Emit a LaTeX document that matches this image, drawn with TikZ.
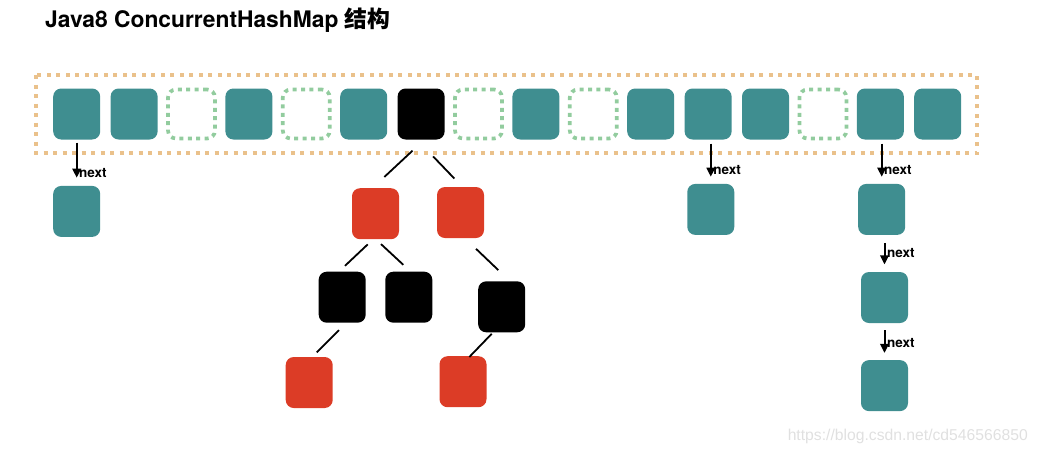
\documentclass[tikz,border=0pt]{standalone}
\usepackage{fontspec}
\setmainfont{TeX Gyre Heros}
\newfontfamily\cjk{Noto Sans CJK SC}
\newfontfamily\markfont{Liberation Sans}
\usetikzlibrary{arrows.meta,positioning,calc}
\definecolor{Teal}{HTML}{3F8E90}
\definecolor{Red}{HTML}{DC3C26}
\definecolor{Mint}{HTML}{92CC9E}
\definecolor{Sand}{HTML}{EAC18B}

\begin{document}
\begin{tikzpicture}[
  x=1pt,y=-1pt,
  cell/.style={rounded corners=8pt,fill=Teal,minimum width=47pt,minimum height=51pt,inner sep=0pt},
  emptycell/.style={rounded corners=8pt,draw=Mint,line width=3.7pt,dash pattern=on 4pt off 4.4pt,minimum width=47pt,minimum height=49pt,inner sep=0pt},
  blackcell/.style={cell,fill=black},
  redcell/.style={cell,fill=Red},
  nextarrow/.style={-{Triangle[length=9pt,width=8.5pt]},line width=2pt},
  nextlabel/.style={anchor=west,inner sep=1.5pt,font=\fontsize{13.5}{15}\selectfont\bfseries},
  edge/.style={line width=1.8pt}
]
\useasboundingbox (0,0) rectangle (1038,456);

\node[anchor=base west,inner sep=0pt,font=\fontsize{22.8}{26}\selectfont\bfseries] (title) at (45,27.7) {Java8 ConcurrentHashMap {\cjk 结构}};

\draw[Sand,line width=4pt,dash pattern=on 4pt off 5.5pt] (36,75) rectangle (977,153);

\foreach \k [count=\i from 0] in {cell,cell,emptycell,cell,emptycell,cell,blackcell,emptycell,cell,emptycell,cell,cell,cell,emptycell,cell,cell}
  \node[\k] (a\i) at ({76.7+57.4*\i},114) {};

% linked lists
\node[cell,below=46pt of a0] (c0) {};
\node[cell,below=44pt of a11,xshift=2.7pt] (c11) {};
\node[cell,below=44pt of a14,xshift=1.4pt] (c14a) {};
\node[cell,below=36.7pt of c14a,xshift=2.8pt] (c14b) {};
\node[cell,below=36.7pt of c14b] (c14c) {};

\draw[nextarrow,shorten <=3pt,shorten >=8pt] (c0.north |- a0.south) -- (c0.north) node[nextlabel,pos=0.72] {next};
\draw[nextarrow,shorten <=4pt,shorten >=7pt] (c11.north |- a11.south) -- (c11.north) node[nextlabel,pos=0.68] {next};
\draw[nextarrow,shorten <=4pt,shorten >=7pt] (c14a.north |- a14.south) -- (c14a.north) node[nextlabel,pos=0.68] {next};
\draw[nextarrow,shorten <=7.7pt,shorten >=7.4pt] (c14b.north |- c14a.south) -- (c14b.north) node[nextlabel,pos=0.5] {next};
\draw[nextarrow,shorten <=7pt,shorten >=7pt] (c14c.north |- c14b.south) -- (c14c.north) node[nextlabel,pos=0.55] {next};

% red-black tree
\node[redcell] (red1) at (375.5,213.7) {};
\node[redcell] (red2) at (460.5,212.5) {};
\node[blackcell] (blk1) at (342.2,297.2) {};
\node[blackcell] (blk2) at (408.8,297.2) {};
\node[blackcell] (blk3) at (501.7,306.8) {};
\node[redcell] (red3) at (309.2,382.5) {};
\node[redcell] (red4) at (463,381.7) {};

\draw[edge] ($(a6.south)+(-8.6,11)$) -- ($(red1.north)+(8.8,-11)$);
\draw[edge] ($(a6.south)+(12,16.7)$) -- ($(red2.north)+(-6.2,-8.3)$);
\draw[edge] ($(red1.south)+(-7.8,5)$) -- ($(blk1.north)+(2.8,-5.7)$);
\draw[edge] ($(red1.south)+(5.5,4.7)$) -- ($(blk2.north)+(-5.5,-6.7)$);
\draw[edge] ($(red2.south)+(15.5,10.6)$) -- ($(blk3.north)+(-3.4,-11)$);
\draw[edge] ($(blk1.south)+(-3.2,7.3)$) -- ($(red3.north)+(7.5,-4.4)$);
\draw[edge] ($(blk3.south)+(-10,1.3)$) -- ($(red4.north)+(6.3,1)$);

\node[anchor=east,inner sep=0pt,text=black!12,font=\markfont\fontsize{15.7}{17}\selectfont] (mark) at (1028,436) {https://blog.csdn.net/cd546566850};
\end{tikzpicture}
\end{document}
